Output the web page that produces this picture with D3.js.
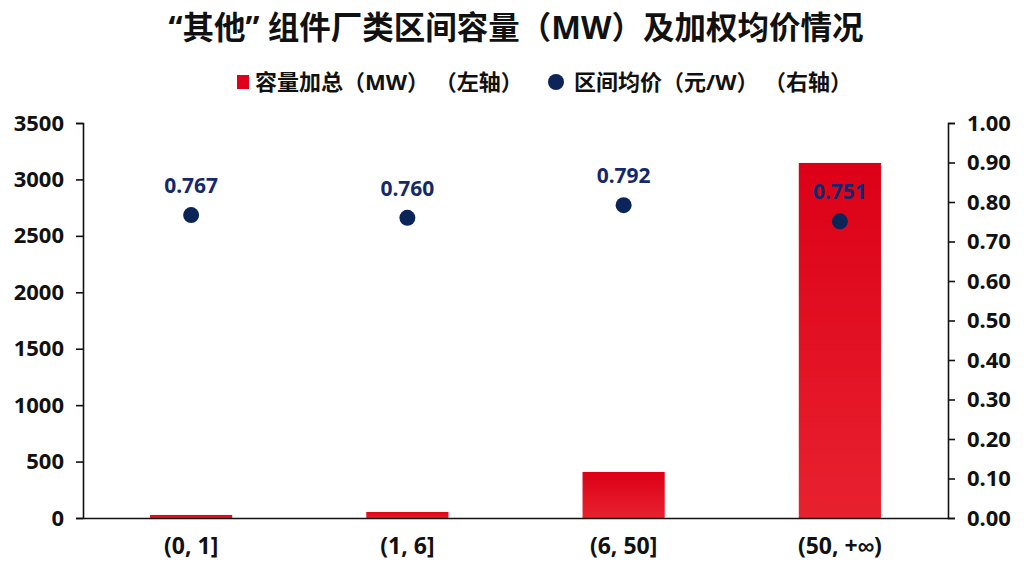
<!DOCTYPE html>
<html>
<head>
<meta charset="utf-8">
<script src="https://cdn.jsdelivr.net/npm/d3@7"></script>
<style>
  body { margin: 0; background: #fff; }
  text { font-family: "Noto Sans", "Noto Sans CJK SC", sans-serif; }
</style>
</head>
<body>
<div id="chart-area"></div>
<script>
// data
const categories = ["(0, 1]", "(1, 6]", "(6, 50]", "(50, +∞)"];
const capacity = [27, 53, 408, 3146];       // MW, left axis
const avgPrice = [0.767, 0.760, 0.792, 0.751]; // 元/W, right axis
const leftTicks = [0, 500, 1000, 1500, 2000, 2500, 3000, 3500];
const rightTicks = [0, 0.1, 0.2, 0.3, 0.4, 0.5, 0.6, 0.7, 0.8, 0.9, 1.0];

const chartWidth = 1024;
const chartHeight = 577;
const margin = {top: 123, right: 76, bottom: 59, left: 83};
const width = chartWidth - margin.left - margin.right;
const height = chartHeight - margin.top - margin.bottom;

let svg = d3.select("#chart-area").append("svg")
  .attr("width", chartWidth)
  .attr("height", chartHeight);

let defs = svg.append("defs");
let grad = defs.append("linearGradient")
  .attr("id", "barGrad")
  .attr("x1", 0).attr("y1", 0).attr("x2", 0).attr("y2", 1);
grad.append("stop").attr("offset", "0%").attr("stop-color", "#dc0016");
grad.append("stop").attr("offset", "100%").attr("stop-color", "#e8212f");

// title
svg.append("text")
  .attr("x", 516)
  .attr("y", 39)
  .attr("text-anchor", "middle")
  .attr("font-size", "31.5px")
  .attr("font-weight", "bold")
  .attr("fill", "#111")
  .text("“其他” 组件厂类区间容量（MW）及加权均价情况");

// legend
let legend = svg.append("g").attr("font-size", "22px").attr("font-weight", "bold").attr("fill", "#111");
legend.append("rect")
  .attr("x", 237).attr("y", 75).attr("width", 12).attr("height", 14)
  .attr("fill", "#e0001a");
legend.append("text")
  .attr("x", 255).attr("y", 90)
  .text("容量加总（MW） （左轴）");
legend.append("circle")
  .attr("cx", 556).attr("cy", 82).attr("r", 8)
  .attr("fill", "#0b2559");
legend.append("text")
  .attr("x", 574).attr("y", 90)
  .text("区间均价（元/W） （右轴）");

let g = svg.append("g")
  .attr("transform", `translate(${margin.left}, ${margin.top})`);

// scales
const x = d3.scaleBand()
  .domain(categories)
  .range([0, width])
  .padding(0);

const y = d3.scaleLinear()
  .domain([0, 3500])
  .range([height, 0]);

const y2 = d3.scaleLinear()
  .domain([0, 1])
  .range([height, 0]);

const barWidth = x.bandwidth() * 0.38;

// bars
g.selectAll("rect.bar").data(capacity).enter().append("rect")
  .attr("class", "bar")
  .attr("x", (d, i) => x(categories[i]) + x.bandwidth() / 2 - barWidth / 2)
  .attr("y", d => y(d))
  .attr("width", barWidth)
  .attr("height", d => height - y(d))
  .attr("fill", "url(#barGrad)");

// axes
let yAxisCall = d3.axisLeft(y).tickValues(leftTicks).tickSize(7).tickPadding(12)
  .tickFormat(d3.format("d"));
let yAxis = g.append("g").attr("class", "y-axis").call(yAxisCall);

let y2AxisCall = d3.axisRight(y2).tickValues(rightTicks).tickSize(7).tickPadding(12)
  .tickFormat(d3.format(".2f"));
let y2Axis = g.append("g").attr("class", "y2-axis")
  .attr("transform", `translate(${width}, 0)`)
  .call(y2AxisCall);

let xAxisCall = d3.axisBottom(x).tickSize(0).tickPadding(20);
let xAxis = g.append("g").attr("class", "x-axis")
  .attr("transform", `translate(0, ${height})`)
  .call(xAxisCall);

[yAxis, y2Axis, xAxis].forEach(ax => {
  ax.select(".domain").attr("stroke", "#111").attr("stroke-width", 1.6);
  ax.selectAll(".tick line").attr("stroke", "#111").attr("stroke-width", 1.6);
  ax.selectAll(".tick text")
    .attr("fill", "#111")
    .attr("font-size", "22px")
    .attr("font-weight", "bold")
    .style("font-family", "'Noto Sans', sans-serif");
});
xAxis.selectAll(".tick text").attr("font-size", "23px");

// price dots and labels
g.selectAll("circle.dot").data(avgPrice).enter().append("circle")
  .attr("class", "dot")
  .attr("cx", (d, i) => x(categories[i]) + x.bandwidth() / 2)
  .attr("cy", d => y2(d))
  .attr("r", 8)
  .attr("fill", "#0b2559");

g.selectAll("text.dot-label").data(avgPrice).enter().append("text")
  .attr("class", "dot-label")
  .attr("x", (d, i) => x(categories[i]) + x.bandwidth() / 2)
  .attr("y", d => y2(d) - 22)
  .attr("text-anchor", "middle")
  .attr("font-size", "21px")
  .attr("font-weight", "bold")
  .attr("fill", "#13296b")
  .text(d => d3.format(".3f")(d));
</script>
</body>
</html>
